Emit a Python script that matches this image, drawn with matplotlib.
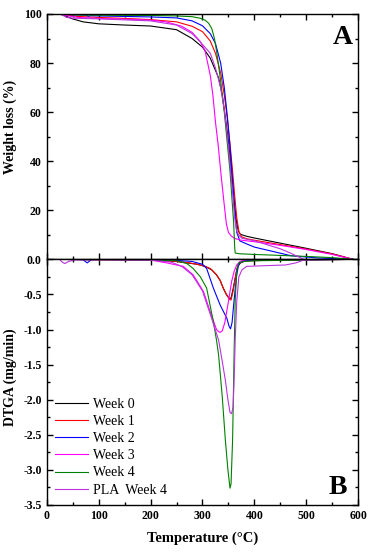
import matplotlib
matplotlib.use("Agg")
import matplotlib.pyplot as plt
from matplotlib.ticker import MultipleLocator, FormatStrFormatter

plt.rcParams['font.family'] = ['Liberation Serif', 'DejaVu Serif']
plt.rcParams['axes.unicode_minus'] = False

labels = ['Week 0', 'Week 1', 'Week 2', 'Week 3', 'Week 4', 'PLA  Week 4']
colors = ['#000000', '#ff0000', '#0000ff', '#ff00ff', '#008000', '#bb33dd']

# TGA curves (weight %)
tga_t0 = [25, 35, 50, 70, 100, 150, 200, 250, 280, 300, 315, 325, 331, 338, 344, 349, 353, 357, 361, 365, 369, 373, 385, 400, 450, 500, 550, 590]
tga_w0 = [100, 99.3, 98, 96.8, 96, 95.5, 95.1, 93.6, 90, 86.5, 82, 77, 74, 67, 58, 50, 42, 33, 24, 16, 11.5, 10.2, 9.4, 8.7, 6.6, 4.5, 2.3, 0]
tga_t1 = [25, 40, 60, 100, 150, 200, 250, 280, 300, 315, 325, 335, 342, 348, 353, 358, 362, 366, 370, 375, 385, 400, 450, 500, 550, 590]
tga_w1 = [100, 99.5, 99, 98.6, 98.2, 97.7, 96.8, 95, 92.8, 89, 84, 76, 67, 57, 47, 36, 26, 17, 11.5, 9.2, 8.4, 7.8, 6, 4.2, 2.2, 0]
tga_t2 = [25, 40, 60, 75, 80, 85, 100, 150, 200, 250, 280, 300, 315, 325, 335, 342, 348, 353, 358, 362, 366, 372, 385, 400, 430, 470, 520, 590]
tga_w2 = [100, 99.8, 99.6, 99.5, 99.1, 99.3, 99.2, 99, 98.8, 98.4, 97.2, 95.2, 92, 88, 80, 70, 58, 46, 32, 20, 11, 7.5, 6.3, 5, 3.5, 1.5, 0.6, 0]
tga_t3 = [25, 40, 60, 100, 150, 200, 230, 260, 280, 295, 305, 315, 320, 325, 330, 336, 341, 346, 350, 355, 362, 375, 400, 450, 500, 550, 590]
tga_w3 = [100, 99.3, 98.6, 98.2, 97.9, 97.5, 96.8, 95, 92.5, 89, 85, 75, 67, 56, 47, 34, 24, 14.5, 11, 9.6, 8.5, 7.8, 7.2, 5.7, 4, 2, 0]
tga_t4 = [25, 40, 60, 100, 200, 250, 280, 295, 305, 312, 318, 323, 327, 331, 336, 342, 347, 353, 357, 360, 362, 363, 370, 400, 450, 500, 550, 590]
tga_w4 = [100, 99.8, 99.6, 99.5, 99.4, 99.2, 98.9, 98.3, 97.5, 96.2, 94, 90, 85, 79, 71, 60, 49, 36, 24, 15, 5, 2.6, 2.3, 2, 1.6, 1.2, 0.7, 0]
tga_t5 = [25, 30, 38, 50, 100, 150, 200, 250, 280, 295, 315, 325, 335, 342, 348, 353, 358, 362, 366, 370, 376, 385, 400, 430, 450, 470, 485, 495]
tga_w5 = [100, 99.6, 98.6, 98.3, 98, 97.6, 97.2, 95.5, 92, 88.8, 84, 78, 70, 61, 50, 39, 27, 17, 11.5, 9.8, 8.6, 8.2, 7.6, 5.6, 4.3, 2.5, 1, 0]

# DTGA curves (mg/min)
dtg_t0 = [25, 100, 200, 250, 270, 290, 305, 318, 327, 334, 340, 346, 352, 355, 359, 363, 366, 369, 375, 385, 450, 590]
dtg_v0 = [0, -0.005, -0.01, -0.03, -0.05, -0.07, -0.1, -0.15, -0.22, -0.3, -0.41, -0.5, -0.56, -0.55, -0.42, -0.27, -0.15, -0.08, -0.04, -0.02, -0.01, 0]
dtg_t1 = [25, 100, 200, 250, 270, 290, 305, 315, 327, 334, 340, 346, 352, 355, 359, 363, 366, 369, 375, 385, 450, 590]
dtg_v1 = [0, -0.005, -0.01, -0.03, -0.045, -0.07, -0.1, -0.13, -0.22, -0.3, -0.41, -0.5, -0.57, -0.58, -0.45, -0.27, -0.15, -0.08, -0.04, -0.02, -0.01, 0]
dtg_t2 = [25, 70, 78, 86, 100, 200, 250, 280, 300, 308, 321, 334, 347, 351, 354, 357, 360, 363, 366, 369, 372, 380, 400, 590]
dtg_v2 = [0, -0.005, -0.05, -0.005, 0, -0.005, -0.015, -0.03, -0.07, -0.13, -0.41, -0.65, -0.84, -0.95, -0.99, -0.9, -0.65, -0.42, -0.22, -0.1, -0.05, -0.02, -0.01, 0]
dtg_t3 = [25, 100, 200, 231, 250, 263, 282, 302, 315, 327, 331, 334, 338, 343, 350, 356, 361, 366, 372, 380, 400, 590]
dtg_v3 = [0, -0.005, -0.01, -0.05, -0.08, -0.1, -0.22, -0.46, -0.75, -1.0, -1.03, -1.04, -1.02, -0.9, -0.6, -0.32, -0.17, -0.08, -0.03, -0.01, 0, 0]
dtg_t4 = [25, 100, 200, 250, 270, 282, 296, 308, 321, 327, 331, 338, 344, 349, 353, 355, 358, 361, 363, 366, 370, 380, 400, 590]
dtg_v4 = [0, -0.005, -0.01, -0.02, -0.06, -0.13, -0.25, -0.41, -0.89, -1.15, -1.36, -1.95, -2.57, -3.0, -3.26, -3.2, -2.57, -1.3, -0.6, -0.15, -0.05, -0.03, -0.02, 0]
dtg_t5 = [25, 30, 35, 42, 55, 100, 200, 240, 260, 280, 300, 318, 331, 338, 344, 349, 353, 356, 359, 361, 363, 366, 370, 376, 385, 420, 460, 480, 495, 590]
dtg_v5 = [0, -0.04, -0.06, -0.03, -0.005, -0.005, -0.01, -0.04, -0.1, -0.22, -0.45, -0.85, -1.15, -1.45, -1.72, -2.0, -2.18, -2.2, -2.1, -1.7, -1.15, -0.6, -0.25, -0.15, -0.1, -0.09, -0.08, -0.05, -0.01, 0]

tga = [(tga_t0, tga_w0), (tga_t1, tga_w1), (tga_t2, tga_w2),
       (tga_t3, tga_w3), (tga_t4, tga_w4), (tga_t5, tga_w5)]
dtg = [(dtg_t0, dtg_v0), (dtg_t1, dtg_v1), (dtg_t2, dtg_v2),
       (dtg_t3, dtg_v3), (dtg_t4, dtg_v4), (dtg_t5, dtg_v5)]

fig = plt.figure(figsize=(3.72, 5.53), dpi=100)
left, width = 0.1255, 0.8376
ax1 = fig.add_axes([left, 0.531, width, 0.4437])
ax2 = fig.add_axes([left, 0.0868, width, 0.4442], sharex=ax1)

for (t, w), c in zip(tga, colors):
    ax1.plot(t, w, color=c, lw=0.8)
for (t, v), c, lab in zip(dtg, colors, labels):
    ax2.plot(t, v, color=c, lw=0.8, label=lab)

ax1.set_xlim(0, 600)
ax1.set_ylim(0, 100)
ax2.set_ylim(-3.5, 0)

for ax in (ax1, ax2):
    ax.xaxis.set_major_locator(MultipleLocator(100))
    ax.xaxis.set_minor_locator(MultipleLocator(50))
    ax.tick_params(which='both', direction='in', top=True, right=True, width=1)
    ax.tick_params(which='major', length=4, labelsize=8.5)
    ax.tick_params(which='minor', length=2)
    for s in ax.spines.values():
        s.set_linewidth(1)

ax1.set_yticks([20, 40, 60, 80, 100])
ax1.set_yticks([10, 30, 50, 70, 90], minor=True)
ax1.tick_params(labelbottom=False)

ax2.yaxis.set_major_locator(MultipleLocator(0.5))
ax2.yaxis.set_minor_locator(MultipleLocator(0.25))
ax2.yaxis.set_major_formatter(FormatStrFormatter('%.1f'))

for ax in (ax1, ax2):
    for lbl in ax.get_xticklabels() + ax.get_yticklabels():
        lbl.set_fontweight('bold')

ax1.set_ylabel('Weight loss (%)', fontsize=10, fontweight='bold')
ax2.set_ylabel('DTGA (mg/min)', fontsize=10, fontweight='bold')
ax1.yaxis.set_label_coords(-0.095, 0.54)
ax2.yaxis.set_label_coords(-0.095, 0.52)
ax2.set_xlabel('Temperature (\u00b0C)', fontsize=10.5, fontweight='bold', labelpad=7)

ax1.text(0.951, 0.906, 'A', transform=ax1.transAxes, fontsize=20,
         fontweight='bold', ha='center', va='center')
ax2.text(0.935, 0.073, 'B', transform=ax2.transAxes, fontsize=20,
         fontweight='bold', ha='center', va='center')

ax2.legend(loc='lower left', bbox_to_anchor=(0.0, 0.0), frameon=False,
           fontsize=10, handlelength=2.4, handletextpad=0.3,
           labelspacing=0.3, borderaxespad=0.2)

fig.savefig('out.png', dpi=100)
